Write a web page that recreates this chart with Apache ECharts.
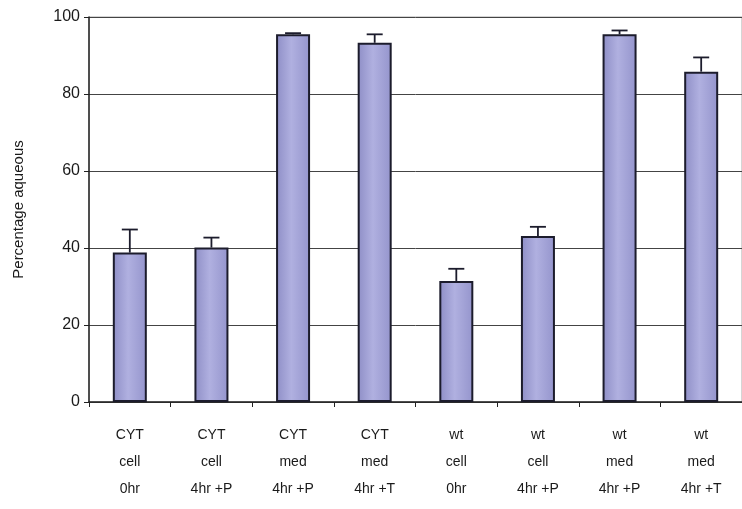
<!DOCTYPE html>
<html><head><meta charset="utf-8">
<script src="https://cdn.jsdelivr.net/npm/echarts@6/dist/echarts.min.js"></script>
<style>html,body{margin:0;padding:0;background:#fff}#c{width:742px;height:509px}</style>
</head><body><div id="c"></div>
<script>
const categories = ["CYT\ncell\n0hr","CYT\ncell\n4hr +P","CYT\nmed\n4hr +P","CYT\nmed\n4hr +T","wt\ncell\n0hr","wt\ncell\n4hr +P","wt\nmed\n4hr +P","wt\nmed\n4hr +T"];
const values = [38.8, 40.1, 95.5, 93.3, 31.4, 43.1, 95.5, 85.8];
const errors = [6.0, 2.6, 0.3, 2.2, 3.2, 2.4, 1.0, 3.7];
const yTicks = [0, 20, 40, 60, 80, 100];
const yTitle = "Percentage aqueous";

const chart = echarts.init(document.getElementById('c'), null, {renderer:'canvas'});
const errData = values.map((v,i)=>[i, v, v+errors[i]]);
chart.setOption({
  animation:false,
  backgroundColor:'#fff',
  grid:{left:89,right:0,top:17,bottom:107,show:true,borderColor:'#aaa',borderWidth:1},
  xAxis:{type:'category',data:categories,
    axisLine:{lineStyle:{color:'#222',width:1.5}},
    axisTick:{show:true,length:5,lineStyle:{color:'#222'}},
    axisLabel:{color:'#1a1a1a',fontFamily:'Liberation Sans, Arial',fontSize:14,lineHeight:27,margin:20,interval:0}},
  yAxis:{type:'value',min:yTicks[0],max:yTicks[yTicks.length-1],interval:20,
    name:yTitle,nameLocation:'middle',nameGap:63,nameRotate:90,
    nameTextStyle:{color:'#1a1a1a',fontFamily:'Liberation Sans, Arial',fontSize:15},
    axisLine:{show:true,lineStyle:{color:'#222',width:1.5}},
    axisTick:{show:true,length:5,lineStyle:{color:'#222'}},
    axisLabel:{color:'#1a1a1a',fontFamily:'Liberation Sans, Arial',fontSize:16,margin:9},
    splitLine:{lineStyle:{color:'#444',width:1}}},
  series:[
    {type:'bar',data:values,barWidth:34,
      itemStyle:{borderColor:'#1c1c2c',borderWidth:2,
        color:new echarts.graphic.LinearGradient(0,0,1,0,[
          {offset:0,color:'#8e8ec6'},{offset:0.45,color:'#b0b0e0'},{offset:1,color:'#9494cc'}])}},
    {type:'custom',data:errData,z:10,
      renderItem:function(params,api){
        const x=api.value(0), lo=api.coord([x,api.value(1)]), hi=api.coord([x,api.value(2)]);
        const hw=8;
        return {type:'group',children:[
          {type:'line',shape:{x1:lo[0],y1:lo[1],x2:hi[0],y2:hi[1]},style:{stroke:'#1c1c2c',lineWidth:1.8}},
          {type:'line',shape:{x1:hi[0]-hw,y1:hi[1],x2:hi[0]+hw,y2:hi[1]},style:{stroke:'#1c1c2c',lineWidth:1.8}}
        ]};
      }}
  ]
});
</script></body></html>
